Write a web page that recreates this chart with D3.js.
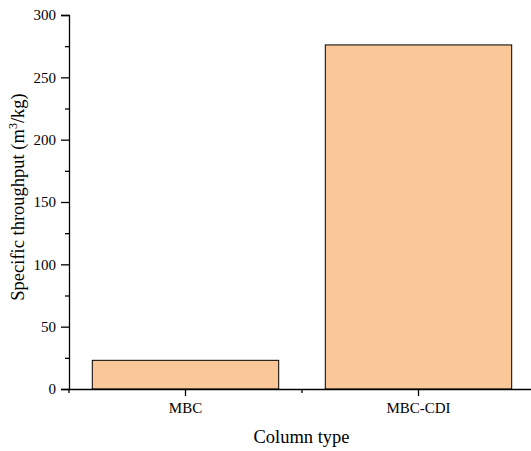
<!DOCTYPE html>
<html>
<head>
<meta charset="utf-8">
<script src="https://cdn.jsdelivr.net/npm/d3@7.9.0/dist/d3.min.js"></script>
<style>
  body { margin: 0; background: #fff; }
  svg { display: block; font-family: "Liberation Serif", "Times New Roman", serif; }
</style>
</head>
<body>
<div id="chart"></div>
<script>
const categories = ['MBC', 'MBC-CDI'];
const values = [23, 276];
const yTicks = [0, 50, 100, 150, 200, 250, 300];

const width = 531;
const height = 451;
const margin = { top: 15, right: -4, bottom: 62, left: 69 };
const serif = '"Liberation Serif", "Times New Roman", serif';

const svg = d3.select('#chart')
  .append('svg')
  .attr('width', width)
  .attr('height', height);

const xScale = d3.scaleBand()
  .domain(categories)
  .range([margin.left, width - margin.right])
  .paddingInner(0)
  .paddingOuter(0);

const yScale = d3.scaleLinear()
  .domain([0, 300])
  .range([height - margin.bottom, margin.top]);

const barW = xScale.bandwidth() * 0.8;

// bars
svg.append('g')
  .selectAll('rect')
  .data(values)
  .join('rect')
  .attr('x', (d, i) => xScale(categories[i]) + (xScale.bandwidth() - barW) / 2)
  .attr('y', (d) => yScale(d))
  .attr('width', barW)
  .attr('height', (d) => yScale(0) - yScale(d))
  .attr('fill', '#FAC898')
  .attr('stroke', '#000')
  .attr('stroke-width', 1);

// y axis (major + minor ticks)
const yAxis = svg.append('g')
  .attr('transform', `translate(${margin.left},0)`)
  .call(d3.axisLeft(yScale).tickValues(yTicks).tickSize(8).tickPadding(5));
yAxis.attr('font-family', serif).attr('font-size', 15);
yAxis.select('.domain').attr('stroke', '#000').attr('stroke-width', 1.3);
yAxis.selectAll('.tick line').attr('stroke-width', 1.3);
yAxis.selectAll('.tick text').attr('fill', '#000');

const yMinor = svg.append('g')
  .attr('transform', `translate(${margin.left},0)`)
  .call(d3.axisLeft(yScale).tickValues(d3.range(25, 300, 50)).tickSize(4).tickFormat(''));
yMinor.select('.domain').remove();
yMinor.selectAll('.tick line').attr('stroke-width', 1.3);

// x axis
const xAxis = svg.append('g')
  .attr('transform', `translate(0,${yScale(0)})`)
  .call(d3.axisBottom(xScale).tickSize(7).tickPadding(6).tickSizeOuter(0));
xAxis.attr('font-family', serif).attr('font-size', 15);
xAxis.select('.domain').attr('stroke', '#000').attr('stroke-width', 1.3);
xAxis.selectAll('.tick line').attr('stroke-width', 1.3);
xAxis.selectAll('.tick text').attr('fill', '#000');

// minor x ticks at band edges
svg.append('g')
  .selectAll('line')
  .data(categories)
  .join('line')
  .attr('x1', (d) => xScale(d))
  .attr('x2', (d) => xScale(d))
  .attr('y1', yScale(0))
  .attr('y2', yScale(0) + 4)
  .attr('stroke', '#000')
  .attr('stroke-width', 1.3);

// axis titles
svg.append('text')
  .attr('x', (margin.left + 534) / 2)
  .attr('y', 443)
  .attr('text-anchor', 'middle')
  .attr('font-size', 18.5)
  .text('Column type');

const yTitle = svg.append('text')
  .attr('transform', `translate(24,${(margin.top + yScale(0)) / 2 - 5}) rotate(-90)`)
  .attr('text-anchor', 'middle')
  .attr('font-size', 18.5);
yTitle.append('tspan').text('Specific throughput (m');
yTitle.append('tspan').attr('font-size', 12).attr('dy', -7).text('3');
yTitle.append('tspan').attr('dy', 7).text('/kg)');
</script>
</body>
</html>
